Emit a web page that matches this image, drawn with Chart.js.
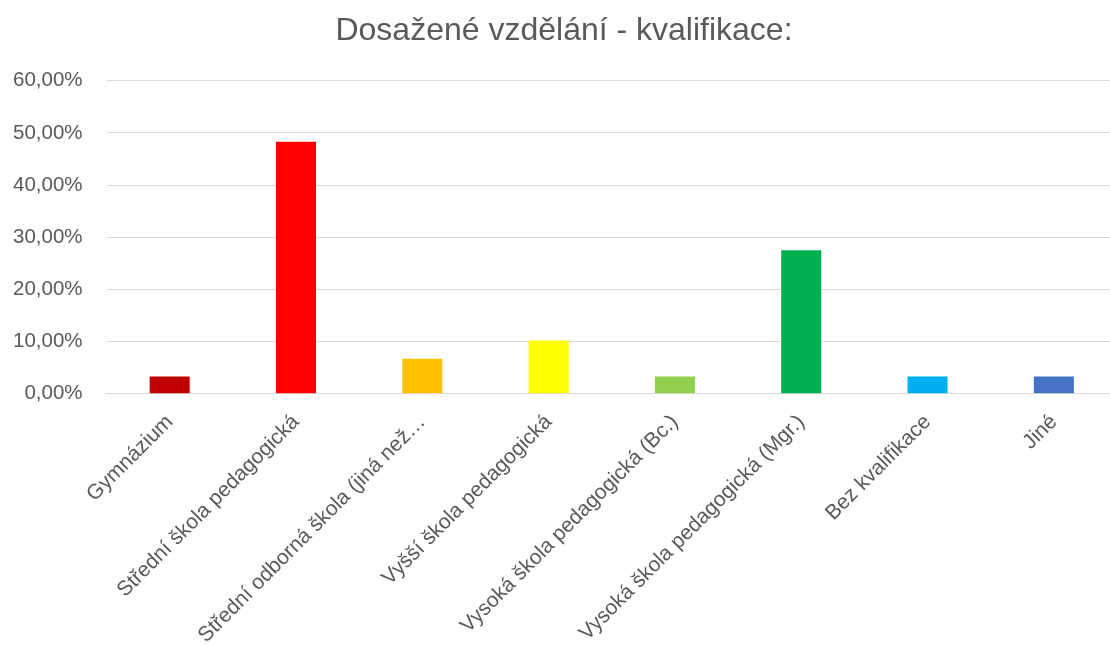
<!DOCTYPE html>
<html>
<head>
<meta charset="utf-8">
<script src="https://cdn.jsdelivr.net/npm/chart.js@4"></script>
<style>
  html, body { margin: 0; padding: 0; background: #fff; overflow: hidden; }
  #wrap { width: 1117px; height: 645px; }
</style>
</head>
<body>
<div id="wrap"><canvas id="chart"></canvas></div>
<script>
const categories = [
    "Gymnázium",
    "Střední škola pedagogická",
    "Střední odborná škola (jiná než…",
    "Vyšší škola pedagogická",
    "Vysoká škola pedagogická (Bc.)",
    "Vysoká škola pedagogická (Mgr.)",
    "Bez kvalifikace",
    "Jiné",
];
const shares = [3.3, 48.28, 6.7, 10.2, 3.3, 27.5, 3.3, 3.3];
const barColors = ["#C00000", "#FF0000", "#FFC000", "#FFFF00", "#92D050", "#00B050", "#00B0F0", "#4472C4"];
const yTicks = [0, 10, 20, 30, 40, 50, 60];

const textColor = "#595959";
const fontFamily = "'Liberation Sans', Arial, sans-serif";

// canvas is a little wider than the window: the plot runs past the right edge, as in the original
new Chart(document.getElementById("chart"), {
    type: "bar",
    data: {
        labels: categories,
        datasets: [
            {
                label: "Dosažené vzdělání - kvalifikace:",
                data: shares,
                backgroundColor: barColors,
                categoryPercentage: 1,
                barPercentage: 0.317,
            },
        ],
    },
    options: {
        responsive: true,
        maintainAspectRatio: false,
        animation: false,
        layout: {
            padding: { left: 11, right: 0, top: 0, bottom: -19 },
        },
        plugins: {
            legend: { display: false },
            tooltip: { enabled: false },
            title: {
                display: true,
                text: "Dosažené vzdělání - kvalifikace:",
                color: textColor,
                font: { family: fontFamily, size: 32, weight: "normal" },
                padding: { top: 12, bottom: 30.3 },
            },
        },
        scales: {
            x: {
                grid: { display: false, drawTicks: false },
                border: { color: "#D9D9D9", width: 1 },
                ticks: {
                    color: textColor,
                    font: { family: fontFamily, size: 21 },
                    minRotation: 45,
                    maxRotation: 45,
                    autoSkip: false,
                    padding: 16,
                },
            },
            y: {
                min: yTicks[0],
                max: yTicks[yTicks.length - 1],
                afterBuildTicks: (axis) => {
                    axis.ticks = yTicks.map((v) => ({ value: v }));
                },
                grid: {
                    color: "#D9D9D9",
                    lineWidth: 1,
                    tickLength: 22,
                    tickColor: "rgba(0,0,0,0)",
                },
                border: { display: false },
                ticks: {
                    color: textColor,
                    font: { family: fontFamily, size: 20.5 },
                    padding: 2,
                    callback: (v) => v.toFixed(2).replace(".", ",") + "%",
                },
            },
        },
    },
});
</script>
</body>
</html>
